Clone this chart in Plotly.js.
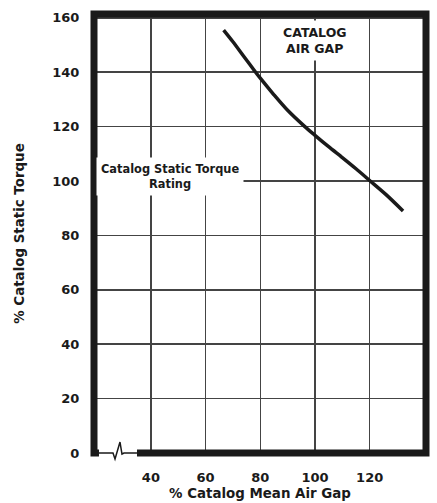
<!DOCTYPE html>
<html>
<head>
<meta charset="utf-8">
<script src="https://cdn.plot.ly/plotly-3.0.1.min.js"></script>
<style>
  html, body { margin: 0; padding: 0; background: #ffffff; }
  #chart { width: 437px; height: 503px; }
</style>
</head>
<body>
<div id="chart"></div>
<script>
// Data
const airGap = [66.6, 70, 74, 78.3, 80, 85, 90, 96.3, 100, 105, 110, 115, 120, 126, 132.2];
const torque = [155.5, 151.2, 145.8, 140, 137.8, 131.7, 126, 120, 116.8, 112.6, 108.6, 104.5, 100.2, 95, 89];

const xTicks = [40, 60, 80, 100, 120, 140];
const xTickText = ['40', '60', '80', '100', '120', '140'];
const yTicks = [0, 20, 40, 60, 80, 100, 120, 140, 160];
const yTickText = ['0', '20', '40', '60', '80', '100', '120', '140', '160'];

const FONT = 'DejaVu Sans, Liberation Sans, Arial, sans-serif';
const INK = '#1a1a1a';

const trace = {
  x: airGap,
  y: torque,
  type: 'scatter',
  mode: 'lines',
  line: { color: INK, width: 3.5, shape: 'spline', smoothing: 0.8 },
  hoverinfo: 'skip',
  showlegend: false
};

const layout = {
  width: 437,
  height: 503,
  margin: { l: 94, r: 11, t: 14, b: 50 },
  paper_bgcolor: '#ffffff',
  plot_bgcolor: '#ffffff',
  font: { family: FONT, size: 13, color: INK, weight: 'bold' },
  showlegend: false,
  xaxis: {
    range: [19.2, 140.6],
    tickmode: 'array',
    tickvals: xTicks,
    ticktext: xTickText,
    ticks: 'outside',
    ticklen: 12,
    tickcolor: 'rgba(0,0,0,0)',
    showgrid: true,
    gridcolor: '#444444',
    gridwidth: 1.5,
    zeroline: false,
    showline: false,
    tickfont: { family: FONT, size: 13, color: INK, weight: 'bold' },
    title: { text: '% Catalog Mean Air Gap', font: { family: FONT, size: 13.4, color: INK, weight: 'bold' }, standoff: 5 },
    fixedrange: true
  },
  yaxis: {
    range: [0, 161.4],
    tickmode: 'array',
    tickvals: yTicks,
    ticktext: yTickText,
    ticks: 'outside',
    ticklen: 11,
    tickcolor: 'rgba(0,0,0,0)',
    showgrid: true,
    gridcolor: '#444444',
    gridwidth: 1.5,
    zeroline: false,
    showline: false,
    tickfont: { family: FONT, size: 13, color: INK, weight: 'bold' },
    title: { text: '% Catalog Static Torque', font: { family: FONT, size: 13.4, color: INK, weight: 'bold' }, standoff: 24 },
    fixedrange: true
  },
  shapes: [
    {
      type: 'path',
      xref: 'paper', yref: 'paper',
      path: 'M 0.1295,0 L 1,0 L 1,1 L 0,1 L 0,0 L 0.015,0',
      line: { color: INK, width: 7 }
    },
    {
      type: 'path',
      xref: 'paper', yref: 'paper',
      path: 'M 0.015,0 L 0.0572,0 L 0.0633,-0.0137 L 0.0783,0.025 L 0.0843,-0.0023 L 0.0904,0 L 0.1295,0',
      line: { color: INK, width: 1.5 }
    }
  ],
  annotations: [
    {
      x: 100, y: 151.5, xref: 'x', yref: 'y',
      text: 'CATALOG<br>AIR GAP',
      showarrow: false,
      font: { family: FONT, size: 12.5, color: INK, weight: 'bold' },
      bgcolor: '#ffffff',
      borderpad: 4,
      align: 'center'
    },
    {
      x: 47, y: 101.5, xref: 'x', yref: 'y',
      text: 'Catalog Static Torque<br>Rating',
      showarrow: false,
      font: { family: FONT, size: 11.4, color: INK, weight: 'bold' },
      bgcolor: '#ffffff',
      borderpad: 4,
      align: 'center'
    }
  ]
};

Plotly.newPlot('chart', [trace], layout, { displayModeBar: false, staticPlot: true });
</script>
</body>
</html>
